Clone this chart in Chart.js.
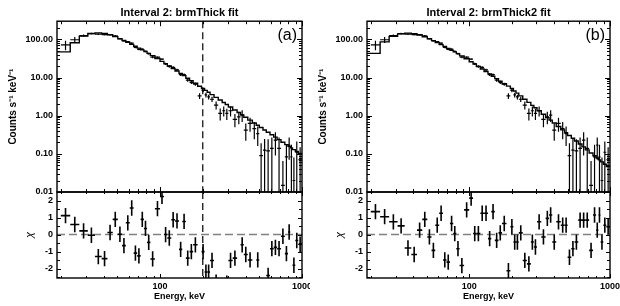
<!DOCTYPE html>
<html>
<head>
<meta charset="utf-8">
<script src="https://cdn.jsdelivr.net/npm/chart.js@4.4.0/dist/chart.umd.min.js"></script>
<style>
  body { margin: 0; background: #fff; }
  #wrap { position: relative; width: 620px; height: 306px; background: #fff; }
  canvas { position: absolute; }
</style>
</head>
<body>
<div id="wrap">
  <canvas id="topA" width="310" height="194" style="left:0px;top:0px"></canvas>
  <canvas id="resA" width="310" height="116" style="left:0px;top:190px"></canvas>
  <canvas id="topB" width="310" height="194" style="left:310px;top:0px"></canvas>
  <canvas id="resB" width="310" height="116" style="left:310px;top:190px"></canvas>
</div>
<script>
// energy bins (keV), 59 bins
const binEdges = [20, 23.3, 27, 31, 34.8, 38.8, 42.6, 46.4, 50.4, 54, 57.4, 61.2, 65.2, 69, 73, 77, 81, 85.5, 92, 100,
  106.5, 112.5, 120, 127.5, 136, 143.5, 152, 161.5, 171, 184, 196, 206, 215, 225, 240, 257, 274, 288, 303, 325,
  349, 369, 389, 415, 447, 476, 500, 531, 560, 595, 632, 668, 711, 757, 797, 827, 857, 897, 941, 1000];

// observed count rate and 1-sigma errors
const counts = [72, 98, 126, 142, 138, 133, 133, 124, 104, 91, 87, 80, 62, 55, 55.5, 48.8, 42, 34.5, 34.5, 30.5,
  23, 19.6, 18.4, 15.9, 11.9, 11.9, 8.6, 7.5, 6.7, 3.3, 4.6, 3.5, 3.1, 2.7, 1.9, 1.15, 1.35, 1.15, 1.35, 0.8,
  0.93, 1.03, 0.42, 0.63, 0.46, 0.34, 0.09, 0.125, 0.12, 0.14, 0.23, 0.14, 0.015, 0.083, 0.17, 0.083, 0.02, 0.11, 0.07];
const countErr = [20, 18, 9, 8, 7, 6.5, 6, 6, 5, 4.5, 4.2, 4, 3.6, 3.2, 3, 2.7, 2.5, 2.2, 1.9, 1.8,
  1.6, 1.4, 1.3, 1.15, 1, 0.9, 0.8, 0.7, 0.6, 0.55, 0.5, 0.5, 0.45, 0.42, 0.45, 0.4, 0.4, 0.38, 0.4, 0.3,
  0.33, 0.35, 0.2, 0.25, 0.22, 0.18, 0.1, 0.12, 0.12, 0.13, 0.14, 0.13, 0.05, 0.09, 0.1, 0.09, 0.06, 0.1, 0.08];

// fitted models per bin
const modelThick = [47, 82, 122, 143, 148, 143, 132, 118, 104, 94, 84, 74, 66, 59, 53, 48, 43, 37.5, 31.5, 26.5,
  23, 20, 17.2, 14.8, 12.8, 11.2, 9.6, 8.3, 7.1, 5.9, 5.15, 4.6, 4.1, 3.57, 3.03, 2.57, 2.22, 1.96, 1.69, 1.41,
  1.21, 1.05, 0.91, 0.764, 0.646, 0.561, 0.489, 0.423, 0.368, 0.316, 0.274, 0.236, 0.202, 0.175, 0.157, 0.143, 0.129, 0.115, 0.102];
const modelThick2 = [43, 86, 120, 140, 146, 142, 131, 117, 104, 93, 83, 73, 65, 58, 52, 47, 42.5, 37, 31, 26,
  22.6, 19.5, 16.8, 14.4, 12.4, 10.8, 9.4, 8, 6.9, 5.95, 5.15, 4.46, 3.91, 3.31, 2.71, 2.23, 1.87, 1.61, 1.35, 1.09,
  0.9, 0.765, 0.641, 0.521, 0.425, 0.358, 0.304, 0.256, 0.217, 0.181, 0.152, 0.127, 0.105, 0.0888, 0.0777, 0.0697, 0.0617, 0.0536, 0.0466];

// normalised residuals
const residThick = [1.11, 0.59, 0.22, -0.04, -1.29, -1.41, 0.12, 0.89, 0.02, -0.65, 0.69, 1.56, -1.09, -1.25, 0.89, 0.36, -0.46, -1.43, 1.52, 2.24,
  0, -0.2, 0.87, 0.8, -0.87, 0.77, -1.38, -1.0, -0.6, -3.2, -1.0, -2.2, -2.2, -1.52, -2.8, -3.4, -3.2, -2.85, -1.52, -1.38,
  -3.2, -0.6, -1.17, -1.49, -3.3, -1.49, -3.2, -3.3, -2.4, -0.83, -0.75, -0.83, -0.1, -1.12, 0.15, -3.2, -1.8, -0.35, -0.57];
const residThick2 = [1.35, 1.05, 0.75, 0.51, -0.79, -1.17, 0.26, 0.89, -0.14, -0.93, 0.55, 1.25, -1.49, -1.62, 0.65, 0.06, -0.83, -1.82, 1.45, 2.14,
  0.06, 0.06, 1.25, 1.25, -0.24, 1.35, -0.34, 0.1, 0.65, -2.12, 0.46, -0.44, -0.44, 0.1, -1.52, -1.72, -0.44, -0.73, 0.75, -0.14,
  0.95, 1.15, -0.44, 0.75, 0.55, 0.55, -1.33, -0.83, -0.44, 0.85, 0.85, 0.85, -0.93, 1.15, 0.26, 1.15, -0.44, 0.55, 0.46];
const residErr = 0.45;

const energyRange = [18.8, 1000];
const countRange = [0.01, 300];
const residRange = [-2.55, 2.5];
const cutEnergy = 200;

const FONT = "'Liberation Sans', Arial, Helvetica, sans-serif";
Chart.defaults.color = '#000';
Chart.defaults.font.family = FONT;

function isDecade(v) {
  const l = Math.log10(v);
  return Math.abs(l - Math.round(l)) < 1e-6;
}

function dataPoints(values, err) {
  return values.map((v, i) => ({
    x: Math.sqrt(binEdges[i] * binEdges[i + 1]),
    y: v,
    xMin: binEdges[i],
    xMax: binEdges[i + 1],
    yMin: v - err(i),
    yMax: v + err(i)
  }));
}

function stepPoints(model) {
  const pts = model.map((v, i) => ({ x: i === 0 ? energyRange[0] : binEdges[i], y: v }));
  pts.push({ x: binEdges[model.length], y: model[model.length - 1] });
  return pts;
}

function logTicks(min, max) {
  const out = [];
  for (let e = Math.floor(Math.log10(min)); e <= Math.ceil(Math.log10(max)); e++) {
    for (let k = 1; k < 10; k++) {
      const v = k * Math.pow(10, e);
      if (v >= min * 0.9999 && v <= max * 1.0001) out.push({ v, major: k === 1 });
    }
  }
  return out;
}

function linTicks(min, max, step) {
  const out = [];
  for (let v = Math.ceil(min / step) * step; v <= max + 1e-9; v += step) {
    out.push({ v, major: Math.abs(v - Math.round(v)) < 1e-6 });
  }
  return out;
}

// IDL style frame: error crosses, dashed guides, inward ticks on all sides
const idlPlugin = {
  id: 'idl',
  afterDatasetsDraw(chart, args, opts) {
    const { ctx, chartArea: a, scales: { x, y } } = chart;
    ctx.save();
    ctx.beginPath();
    ctx.rect(a.left, a.top, a.right - a.left, a.bottom - a.top);
    ctx.clip();

    if (opts.zero) {
      ctx.setLineDash([8, 4]);
      ctx.strokeStyle = '#808080';
      ctx.lineWidth = 1.5;
      const py = y.getPixelForValue(0);
      ctx.beginPath();
      ctx.moveTo(a.left, py);
      ctx.lineTo(a.right, py);
      ctx.stroke();
    }
    if (opts.cut) {
      ctx.setLineDash([7, 4]);
      ctx.strokeStyle = '#000';
      ctx.lineWidth = 1.2;
      const px = x.getPixelForValue(opts.cut);
      ctx.beginPath();
      ctx.moveTo(px, a.top);
      ctx.lineTo(px, a.bottom);
      ctx.stroke();
    }
    ctx.setLineDash([]);

    chart.data.datasets.forEach(ds => {
      if (!ds.errorBars) return;
      ctx.strokeStyle = '#000';
      ctx.lineWidth = opts.barWidth;
      ds.data.forEach(p => {
        const px = x.getPixelForValue(p.x);
        const py = y.getPixelForValue(p.y);
        const x0 = x.getPixelForValue(p.xMin);
        const x1 = x.getPixelForValue(p.xMax);
        const y0 = (y.type === 'logarithmic' && p.yMin <= 0) ? a.bottom + 5 : y.getPixelForValue(p.yMin);
        const y1 = y.getPixelForValue(p.yMax);
        ctx.beginPath();
        ctx.moveTo(x0, py);
        ctx.lineTo(x1, py);
        ctx.moveTo(px, y0);
        ctx.lineTo(px, y1);
        ctx.stroke();
      });
    });
    ctx.restore();
  },
  afterDraw(chart, args, opts) {
    const { ctx, chartArea: a, scales: { x, y } } = chart;
    ctx.save();
    ctx.strokeStyle = '#000';
    ctx.lineWidth = 1;
    ctx.beginPath();
    logTicks(x.min, x.max).forEach(t => {
      const px = Math.round(x.getPixelForValue(t.v)) + 0.5;
      const len = t.major ? opts.xLen[0] : opts.xLen[1];
      ctx.moveTo(px, a.top);
      ctx.lineTo(px, a.top + len);
      ctx.moveTo(px, a.bottom);
      ctx.lineTo(px, a.bottom - len);
    });
    const yt = y.type === 'logarithmic' ? logTicks(y.min, y.max) : linTicks(y.min, y.max, 0.5);
    yt.forEach(t => {
      const py = Math.round(y.getPixelForValue(t.v)) + 0.5;
      const len = t.major ? opts.yLen[0] : opts.yLen[1];
      ctx.moveTo(a.left, py);
      ctx.lineTo(a.left + len, py);
      ctx.moveTo(a.right, py);
      ctx.lineTo(a.right - len, py);
    });
    ctx.stroke();

    ctx.lineWidth = 1.4;
    ctx.strokeRect(a.left, a.top, a.right - a.left, a.bottom - a.top);

    if (opts.tag) {
      ctx.fillStyle = '#000';
      ctx.font = '16px ' + FONT;
      ctx.textAlign = 'right';
      ctx.textBaseline = 'top';
      ctx.fillText(opts.tag, a.right - 5, a.top + 6);
    }
    ctx.restore();
  }
};

function fixWidth(w) {
  return s => {
    s.width = w;
    s.paddingTop = 0;
    s.paddingBottom = 0;
  };
}

function makeTop(id, title, model, tag, cut, padRight) {
  return new Chart(document.getElementById(id), {
    type: 'scatter',
    data: {
      datasets: [
        { type: 'line', data: stepPoints(model), stepped: true, borderColor: '#000', borderWidth: 1.4,
          pointRadius: 0, fill: false },
        { data: dataPoints(counts, i => countErr[i]), pointRadius: 0, errorBars: true }
      ]
    },
    options: {
      responsive: false,
      animation: false,
      layout: { padding: { left: 0, right: padRight, top: 0, bottom: 2 } },
      plugins: {
        legend: { display: false },
        tooltip: { enabled: false },
        title: {
          display: true, text: title, fullSize: false, color: '#000',
          font: { size: 11, weight: 'bold' }, padding: { top: 6, bottom: 2 }
        },
        idl: { tag, cut, zero: false, barWidth: 1.2, xLen: [5, 3], yLen: [5, 3] }
      },
      scales: {
        x: { type: 'logarithmic', min: energyRange[0], max: energyRange[1], display: false },
        y: {
          type: 'logarithmic', min: countRange[0], max: countRange[1],
          afterFit: fixWidth(57),
          grid: { display: false, drawTicks: false },
          border: { display: false },
          ticks: {
            autoSkip: false, padding: 4, color: '#000',
            font: { size: 9, weight: 'bold' },
            callback: v => isDecade(v) ? Number(v).toFixed(2) : ''
          },
          title: {
            display: true, text: 'Counts s\u207B\u00B9 keV\u207B\u00B9', color: '#000',
            font: { size: 10, weight: 'bold' }, padding: { top: 7, bottom: 0 }
          }
        }
      }
    },
    plugins: [idlPlugin]
  });
}

function makeResid(id, resid, cut, padRight) {
  return new Chart(document.getElementById(id), {
    type: 'scatter',
    data: {
      datasets: [
        { data: resid.map((r, i) => ({
            x: Math.sqrt(binEdges[i] * binEdges[i + 1]), y: r,
            xMin: binEdges[i], xMax: binEdges[i + 1], yMin: r - residErr, yMax: r + residErr
          })), pointRadius: 0, errorBars: true }
      ]
    },
    options: {
      responsive: false,
      animation: false,
      layout: { padding: { left: 0, right: padRight, top: 2, bottom: 0 } },
      plugins: {
        legend: { display: false },
        tooltip: { enabled: false },
        idl: { tag: null, cut, zero: true, barWidth: 1.6, xLen: [4, 2], yLen: [4, 3] }
      },
      scales: {
        x: {
          type: 'logarithmic', min: energyRange[0], max: energyRange[1],
          afterFit: s => { s.height = 28; s.paddingLeft = 0; s.paddingRight = 0; },
          grid: { display: false, drawTicks: false },
          border: { display: false },
          ticks: {
            autoSkip: false, maxRotation: 0, padding: 3, color: '#000',
            font: { size: 9, weight: 'bold' },
            callback: v => (isDecade(v) && v >= 100) ? String(Math.round(v)) : ''
          },
          title: {
            display: true, text: 'Energy, keV', color: '#000',
            font: { size: 9, weight: 'bold' }, padding: { top: 0, bottom: 4 }
          }
        },
        y: {
          type: 'linear', min: residRange[0], max: residRange[1],
          afterFit: fixWidth(57),
          grid: { display: false, drawTicks: false },
          border: { display: false },
          ticks: {
            stepSize: 1, includeBounds: false, autoSkip: false, padding: 4, color: '#000',
            font: { size: 9, weight: 'bold' },
            callback: v => Number.isInteger(v) ? String(v) : ''
          },
          title: {
            display: true, text: '\u03C7', color: '#000',
            font: { size: 11, style: 'italic' }, padding: { top: 23, bottom: 0 }
          }
        }
      }
    },
    plugins: [idlPlugin]
  });
}

makeTop('topA', 'Interval 2: brmThick fit', modelThick, '(a)', cutEnergy, 8);
makeResid('resA', residThick, cutEnergy, 8);
makeTop('topB', 'Interval 2: brmThick2 fit', modelThick2, '(b)', null, 10);
makeResid('resB', residThick2, null, 10);
</script>
</body>
</html>
